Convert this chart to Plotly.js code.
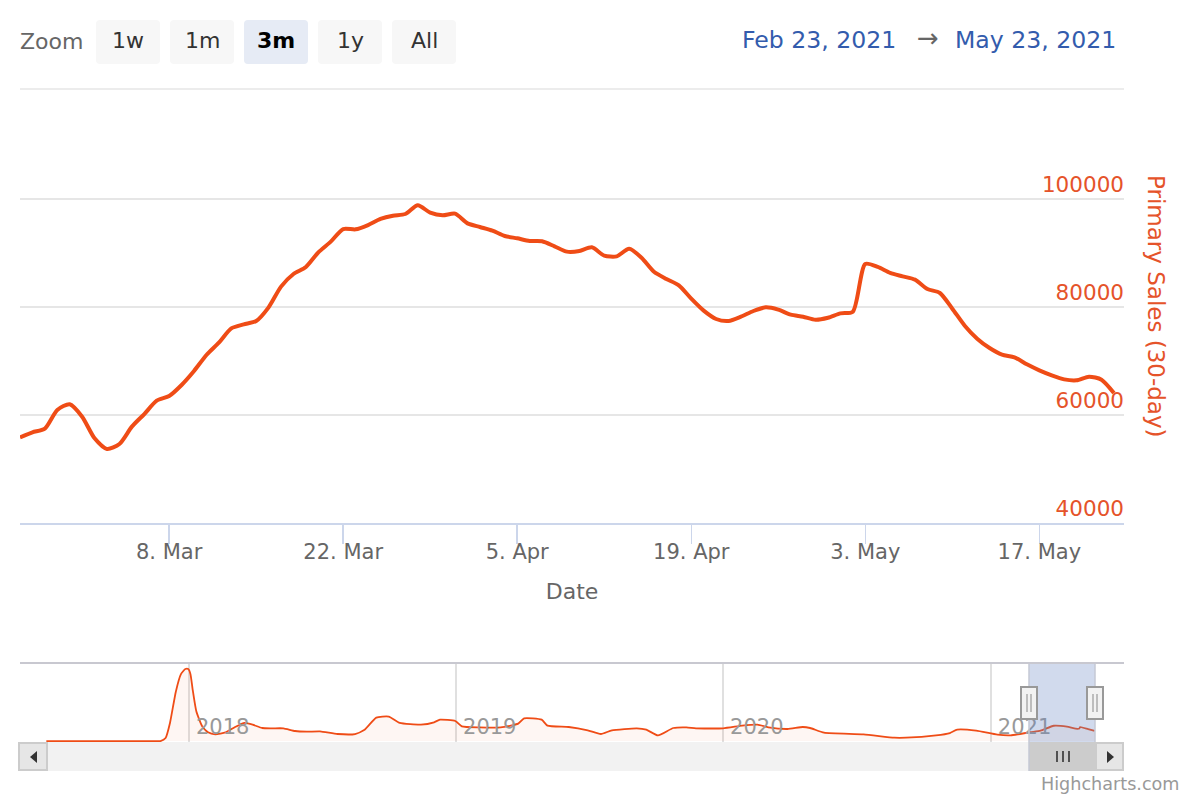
<!DOCTYPE html>
<html><head><meta charset="utf-8">
<script src="https://cdn.plot.ly/plotly-3.0.1.min.js"></script>
<style>html,body{margin:0;padding:0;background:#fff}#c{width:1200px;height:800px}</style>
</head><body><div id="c"></div>
<script>
const salesDates = ["2021-02-24","2021-02-25","2021-02-26","2021-02-27","2021-02-28","2021-03-01","2021-03-02","2021-03-03","2021-03-04","2021-03-05","2021-03-06","2021-03-07","2021-03-08","2021-03-09","2021-03-10","2021-03-11","2021-03-12","2021-03-13","2021-03-14","2021-03-15","2021-03-16","2021-03-17","2021-03-18","2021-03-19","2021-03-20","2021-03-21","2021-03-22","2021-03-23","2021-03-24","2021-03-25","2021-03-26","2021-03-27","2021-03-28","2021-03-29","2021-03-30","2021-03-31","2021-04-01","2021-04-02","2021-04-03","2021-04-04","2021-04-05","2021-04-06","2021-04-07","2021-04-08","2021-04-09","2021-04-10","2021-04-11","2021-04-12","2021-04-13","2021-04-14","2021-04-15","2021-04-16","2021-04-17","2021-04-18","2021-04-19","2021-04-20","2021-04-21","2021-04-22","2021-04-23","2021-04-24","2021-04-25","2021-04-26","2021-04-27","2021-04-28","2021-04-29","2021-04-30","2021-05-01","2021-05-02","2021-05-03","2021-05-04","2021-05-05","2021-05-06","2021-05-07","2021-05-08","2021-05-09","2021-05-10","2021-05-11","2021-05-12","2021-05-13","2021-05-14","2021-05-15","2021-05-16","2021-05-17","2021-05-18","2021-05-19","2021-05-20","2021-05-21","2021-05-22","2021-05-23"];
const salesValues = [55860,56790,57470,60920,62000,59690,55680,53700,54630,57840,60180,62650,63520,65560,68150,71110,73400,76050,76790,77410,79940,83770,86110,87410,90120,92100,94440,94380,95180,96300,96910,97220,98830,97470,96970,97280,95490,94810,94140,93150,92720,92220,92160,91230,90250,90370,91050,89510,89380,90800,89130,86540,85190,84010,81540,79320,77780,77410,78210,79260,79940,79510,78580,78210,77650,78020,78830,79140,87960,87410,86300,85680,85060,83330,82590,79690,76540,74140,72410,71170,70680,69380,68270,67340,66600,66420,67100,66540,64070];
const navDates = ["2017-06-20","2017-08-15","2017-10-10","2017-11-10","2017-11-23","2017-11-30","2017-12-06","2017-12-14","2017-12-21","2017-12-27","2017-12-31","2018-01-03","2018-01-06","2018-01-11","2018-01-19","2018-01-27","2018-02-06","2018-02-20","2018-03-05","2018-03-18","2018-03-29","2018-04-11","2018-04-24","2018-05-10","2018-05-26","2018-06-11","2018-06-29","2018-07-23","2018-08-16","2018-08-29","2018-09-14","2018-10-01","2018-10-16","2018-11-14","2018-12-02","2018-12-10","2018-12-31","2019-01-09","2019-02-02","2019-03-03","2019-03-27","2019-04-04","2019-04-28","2019-05-06","2019-06-04","2019-06-30","2019-07-18","2019-08-02","2019-09-05","2019-09-18","2019-10-04","2019-10-25","2019-11-12","2019-11-25","2020-01-01","2020-01-27","2020-02-17","2020-03-03","2020-03-29","2020-04-19","2020-04-29","2020-05-18","2020-07-11","2020-08-22","2020-09-07","2020-10-18","2020-11-06","2020-11-16","2020-12-12","2021-01-10","2021-01-28","2021-02-24","2021-03-10","2021-03-28","2021-04-15","2021-04-27","2021-05-02","2021-05-03","2021-05-14","2021-05-23"];
const navValues = [0,0,0,0,0,18900,113400,310000,420000,452000,452000,420000,323400,186900,92400,54600,42000,54600,88200,113400,102900,81900,79800,79800,63000,58800,60900,44100,44100,71400,147000,153300,113400,102900,117600,134400,126000,92400,86100,86100,109200,142800,134400,96600,88200,67200,44100,67200,79800,71400,35700,81900,86100,79800,79800,96600,102900,86100,75600,88200,81900,52500,42000,21000,21000,35700,50400,71400,65100,39900,35700,55800,65000,96000,90000,77500,79000,88000,75000,64000];
const xTickVals = ["2021-03-08","2021-03-22","2021-04-05","2021-04-19","2021-05-03","2021-05-17"];
const xTickText = ["8. Mar","22. Mar","5. Apr","19. Apr","3. May","17. May"];
const yTickVals = [40000,60000,80000,100000];
const yTickText = ["40000","60000","80000","100000"];
const navTickVals = ["2018-01-01","2019-01-01","2020-01-01","2021-01-01"];
const navTickText = ["2018","2019","2020","2021"];
const zoomButtons = ["1w","1m","3m","1y","All"];

const FONT = "DejaVu Sans, sans-serif";
const ORANGE = "#ef4c16", LABEL = "#e5532a", GREY = "#666666";
const fx = x => x/1200, fy = y => 1-y/800;
const rect = (x0,y0,x1,y1,fill,line,lw) => ({type:"rect",xref:"paper",yref:"paper",x0:fx(x0),x1:fx(x1),y0:fy(y0),y1:fy(y1),fillcolor:fill,line:{color:line||fill,width:line?(lw||1):0}});
const seg = (x0,y0,x1,y1,color,w) => ({type:"line",xref:"paper",yref:"paper",x0:fx(x0),x1:fx(x1),y0:fy(y0),y1:fy(y1),line:{color:color,width:w}});
const poly = (pts,fill) => ({type:"path",xref:"paper",yref:"paper",fillcolor:fill,line:{width:0},path:"M"+pts.map(p=>fx(p[0])+","+fy(p[1])).join(" L")+" Z"});
const rrect = (x0,y0,x1,y1,r,fill) => {const P=(x,y)=>fx(x)+","+fy(y);return {type:"path",xref:"paper",yref:"paper",fillcolor:fill,line:{width:0},
  path:`M${P(x0+r,y0)} L${P(x1-r,y0)} Q${P(x1,y0)} ${P(x1,y0+r)} L${P(x1,y1-r)} Q${P(x1,y1)} ${P(x1-r,y1)} L${P(x0+r,y1)} Q${P(x0,y1)} ${P(x0,y1-r)} L${P(x0,y0+r)} Q${P(x0,y0)} ${P(x0+r,y0)} Z`};};
const note = (text,x,y,size,color,anchor,extra) => Object.assign({text:text,xref:"paper",yref:"paper",x:fx(x),y:fy(y),xanchor:anchor||"center",yanchor:"middle",showarrow:false,font:{family:FONT,size:size,color:color}},extra||{});

const btnLeft = [96,170,244,318,392];
const shapes = [], annotations = [];
annotations.push(note("Zoom",18,42,22,GREY,"left"));
zoomButtons.forEach((b,i)=>{
  const on = b==="3m";
  shapes.push(rrect(btnLeft[i],20,btnLeft[i]+64,64,4,on?"#e6ebf5":"#f7f7f7"));
  annotations.push(note(on?"<b>"+b+"</b>":b,btnLeft[i]+32,40,22,on?"#000000":"#333333"));
});
annotations.push(note("Feb 23, 2021",898,40,23.6,"#335cad","right"));
annotations.push(note("→",928,38,26,GREY));
annotations.push(note("May 23, 2021",1118,40,23.6,"#335cad","right"));
annotations.push(note("Highcharts.com",1182,784,17.6,"#999999","right"));
annotations.push(note("Primary Sales (30-day)",1156,306,23,LABEL,"center",{textangle:90}));

shapes.push(seg(20,89,1124,89,"#e6e6e6",1.5));
shapes.push(rect(48,742,1095,771,"#f2f2f2"));
shapes.push(rect(19,743,47,770,"#e6e6e6","#cccccc",2));
shapes.push(rect(1096,743,1123,770,"#e6e6e6","#cccccc",2));
shapes.push(rect(1029,742,1095,771,"#cccccc"));
shapes.push(rect(1029,663,1095,742,"rgba(102,133,194,0.3)"));
shapes.push(seg(1029,663,1029,771,"#c4c8d4",1.5));
shapes.push(seg(1095,663,1095,742,"#c4c8d4",1.5));
[1057,1063,1069].forEach(x=>shapes.push(seg(x,751,x,762,"#333333",1.6)));
shapes.push(poly([[37,751],[37,763],[30,757]],"#333333"));
shapes.push(poly([[1107,751],[1107,763],[1114,757]],"#333333"));
[[1021,1037],[1087,1103]].forEach(h=>{
  shapes.push(rect(h[0],687,h[1],719,"#f2f2f2","#999999",2));
  const m=(h[0]+h[1])/2;
  shapes.push(seg(m-2,694,m-2,712,"#999999",1.2));
  shapes.push(seg(m+2,694,m+2,712,"#999999",1.2));
});

const data = [
 {type:"scatter",mode:"lines",x:salesDates,y:salesValues,xaxis:"x",yaxis:"y",line:{color:ORANGE,width:4,shape:"spline",smoothing:0.7},hoverinfo:"x+y",showlegend:false},
 {type:"scatter",mode:"lines",x:navDates,y:navValues,xaxis:"x2",yaxis:"y2",line:{color:ORANGE,width:1.8,shape:"spline",smoothing:0.5},fill:"tozeroy",fillcolor:"rgba(239,76,22,0.05)",hoverinfo:"skip",showlegend:false}
];
const layout = {
 width:1200,height:800,autosize:false,margin:{l:0,r:0,t:0,b:0},paper_bgcolor:"#ffffff",plot_bgcolor:"rgba(0,0,0,0)",showlegend:false,
 font:{family:FONT,color:GREY},
 xaxis:{domain:[fx(20),fx(1124)],anchor:"y",type:"date",range:["2021-02-24","2021-05-23 19:30"],tickmode:"array",tickvals:xTickVals,ticktext:xTickText,
   ticks:"outside",ticklen:19,tickwidth:1.5,tickcolor:"#ccd6eb",showline:true,linecolor:"#ccd6eb",linewidth:2,showgrid:false,zeroline:false,ticklabelstandoff:-10,
   tickfont:{family:FONT,size:21,color:GREY},title:{text:"Date",font:{family:FONT,size:22,color:GREY},standoff:20},automargin:false},
 yaxis:{domain:[fy(523),fy(89)],anchor:"x",side:"right",range:[40000,120370],tickmode:"array",tickvals:yTickVals,ticktext:yTickText,
   ticks:"",showgrid:true,gridcolor:"#e6e6e6",gridwidth:1.5,zeroline:false,showline:false,ticklabelposition:"inside top",ticklabelstandoff:-3,ticklabelshift:1,
   tickfont:{family:FONT,size:21.5,color:LABEL},automargin:false},
 xaxis2:{domain:[fx(20),fx(1124)],anchor:"y2",type:"date",range:["2017-05-15","2021-07-02"],tickmode:"array",tickvals:navTickVals,ticktext:navTickText,
   ticks:"",showgrid:true,gridcolor:"#e0e0e0",gridwidth:1.5,zeroline:false,showline:false,ticklabelposition:"inside right",ticklabelshift:7,ticklabelstandoff:-2,
   tickfont:{family:FONT,size:21,color:"#999999"},automargin:false},
 yaxis2:{domain:[fy(742),fy(663)],anchor:"x2",range:[-6000,490000],showticklabels:false,ticks:"",showgrid:false,zeroline:false,showline:false,automargin:false},
 shapes:shapes.concat([seg(20,663,1124,663,"#c8c8d0",2)]),
 annotations:annotations
};
Plotly.newPlot("c",data,layout,{displayModeBar:false,staticPlot:true});
</script></body></html>
